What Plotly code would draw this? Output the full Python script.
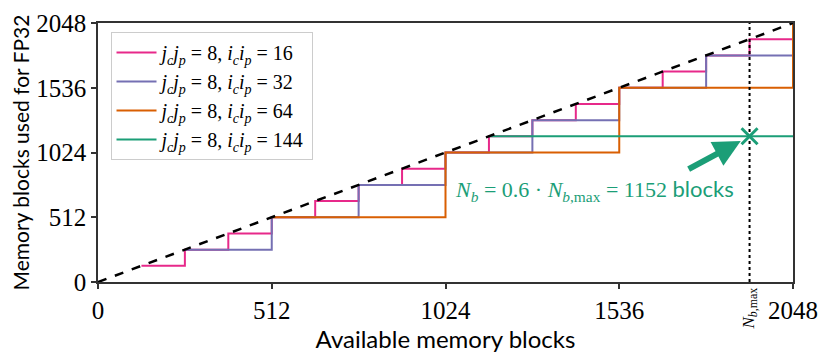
import plotly.graph_objects as go

# step curves: memory blocks used vs available memory blocks (jc*jp = 8)
x_ic16 = [128, 256, 384, 512, 640, 768, 896, 1024, 1152, 1280, 1408, 1536, 1664, 1792, 1920, 2048]
y_ic16 = [128, 256, 384, 512, 640, 768, 896, 1024, 1152, 1280, 1408, 1536, 1664, 1792, 1920, 2048]
x_ic32 = [256, 512, 768, 1024, 1280, 1536, 1792, 2048]
y_ic32 = [256, 512, 768, 1024, 1280, 1536, 1792, 2048]
x_ic64 = [512, 1024, 1536, 2048]
y_ic64 = [512, 1024, 1536, 2048]
x_ic144 = [1152, 2048]
y_ic144 = [1152, 1152]

diag_x = [0, 2048]
diag_y = [0, 2048]

nb_max = 1920
nb_used = 1152

ticks = [0, 512, 1024, 1536, 2048]

names = ['16', '32', '64', '144']
colors = ['#e7298a', '#7570b3', '#d95f02', '#1b9e77']
xs = [x_ic16, x_ic32, x_ic64, x_ic144]
ys = [y_ic16, y_ic32, y_ic64, y_ic144]

SERIF = '"Liberation Serif", serif'
SANS = 'Lato, sans-serif'

fig = go.Figure()
for n, c, xx, yy in zip(names, colors, xs, ys):
    label = ('<i>j</i><sub><i>c</i></sub><i>j</i><sub><i>p</i></sub> = 8, '
             '<i>i</i><sub><i>c</i></sub><i>i</i><sub><i>p</i></sub> = ' + n)
    fig.add_trace(go.Scatter(x=xx, y=yy, mode='lines', line_shape='hv',
                             line=dict(color=c, width=2), name=label))

fig.add_trace(go.Scatter(x=diag_x, y=diag_y, mode='lines', showlegend=False,
                         line=dict(color='black', width=2.5, dash='dash')))
fig.add_trace(go.Scatter(x=[nb_max, nb_max], y=[0, 2048], mode='lines', showlegend=False,
                         line=dict(color='black', width=2, dash='dot')))
fig.add_trace(go.Scatter(x=[nb_max], y=[nb_used], mode='markers', showlegend=False,
                         marker=dict(symbol='x-thin-open', size=16, color='#1b9e77',
                                     line=dict(color='#1b9e77', width=3))))

fig.add_annotation(x=nb_max, y=nb_used, ax=1736, ay=886, axref='x', ayref='y',
                   showarrow=True, arrowhead=2, arrowsize=0.9, arrowwidth=6,
                   arrowcolor='#1b9e77', standoff=10, text='')
fig.add_annotation(x=1046, y=727, xanchor='left', yanchor='middle', showarrow=False,
                   text=('<i>N</i><sub><i>b</i></sub> = 0.6 · <i>N</i><sub><i>b</i>,max</sub> = 1152 '
                         '<span style="font-family:Lato">blocks</span>'),
                   font=dict(family=SERIF, size=22, color='#1b9e77'))
fig.add_annotation(x=nb_max, y=0, yref='paper', yanchor='top', yshift=-4, showarrow=False,
                   textangle=-90, text='<i>N</i><sub><i>b</i>,max</sub>',
                   font=dict(family=SERIF, size=17, color='black'))

axis_style = dict(range=[0, 2048], tickvals=ticks, ticks='outside', ticklen=5,
                  tickwidth=1.5, tickcolor='#333', showline=True, linecolor='#333',
                  linewidth=1.5, mirror=True, showgrid=False, zeroline=False,
                  automargin=False,
                  tickfont=dict(family=SERIF, size=25, color='black'))

fig.update_layout(
    width=831, height=360,
    margin=dict(l=90, r=46, t=15, b=86),
    plot_bgcolor='white', paper_bgcolor='white',
    xaxis=dict(axis_style, title=dict(text='Available memory blocks', standoff=4,
                                      font=dict(family=SANS, size=24, color='black'))),
    yaxis=dict(axis_style, title=dict(text='Memory blocks used for FP32', standoff=4,
                                      font=dict(family=SANS, size=21, color='black'))),
    legend=dict(x=0.018, y=0.965, xanchor='left', yanchor='top',
                bgcolor='white', bordercolor='#ccc', borderwidth=1,
                font=dict(family=SERIF, size=20, color='black'),
                tracegroupgap=0, itemwidth=40),
)

fig.write_html("out.html")
